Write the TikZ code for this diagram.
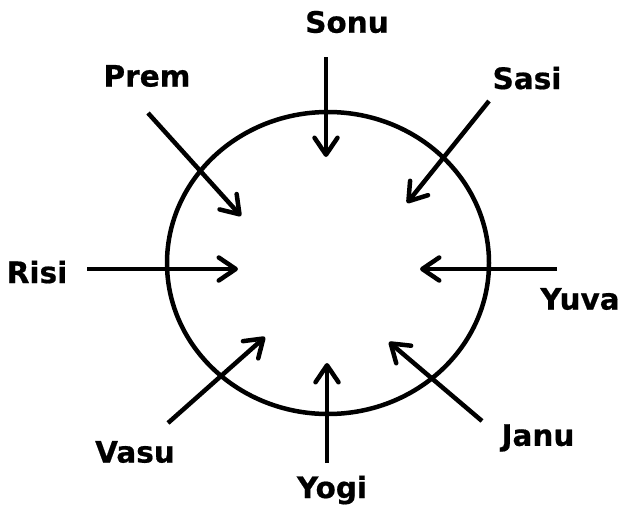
\documentclass[tikz,border=0pt]{standalone}
\usepackage{fontspec}
\setmainfont{DejaVu Sans}[BoldFeatures={FakeBold=0.6}]
\usetikzlibrary{arrows.meta}
\begin{document}
\begin{tikzpicture}[x=1pt,y=-1pt,
  lbl/.style={font=\bfseries\fontsize{29.5}{34}\selectfont, inner sep=0pt, text=black},
  inarrow/.style={line width=4.5pt, -{Straight Barb[length=17pt,width=23pt,line cap=round,round]}},
  ring/.style={line width=4.5pt}]
\useasboundingbox (0,0) rectangle (624,512);
\fill[white] (0,0) rectangle (624,512);
% ring
\coordinate (ctr) at (328,263);
\draw[ring] (ctr) ellipse [x radius=161, y radius=151];
% labels
\node[lbl] (sonu) at (347,22) {Sonu};
\node[lbl] (prem) at (147,76) {Prem};
\node[lbl] (sasi) at (527,78) {Sasi};
\node[lbl] (risi) at (37,272) {Risi};
\node[lbl] (yuva) at (580,299) {Yuva};
\node[lbl] (janu) at (538,438) {Janu};
\node[lbl] (yogi) at (332,490) {Yogi};
\node[lbl] (vasu) at (135,452) {Vasu};
% arrow ends
\coordinate (sonuS) at (326,57);  \coordinate (sonuT) at (326,157);
\coordinate (premS) at (148,113); \coordinate (premT) at (241,216);
\coordinate (sasiS) at (489,101); \coordinate (sasiT) at (407,203);
\coordinate (risiS) at (87,269);  \coordinate (risiT) at (238,269);
\coordinate (yuvaS) at (557,269); \coordinate (yuvaT) at (420,269);
\coordinate (januS) at (482,421); \coordinate (januT) at (389,342);
\coordinate (yogiS) at (327,463); \coordinate (yogiT) at (327,363);
\coordinate (vasuS) at (168,423); \coordinate (vasuT) at (265,337);
\foreach \n in {sonu,prem,sasi,risi,yuva,janu,yogi,vasu}
  \draw[inarrow] (\n S) -- (\n T);
\end{tikzpicture}
\end{document}
